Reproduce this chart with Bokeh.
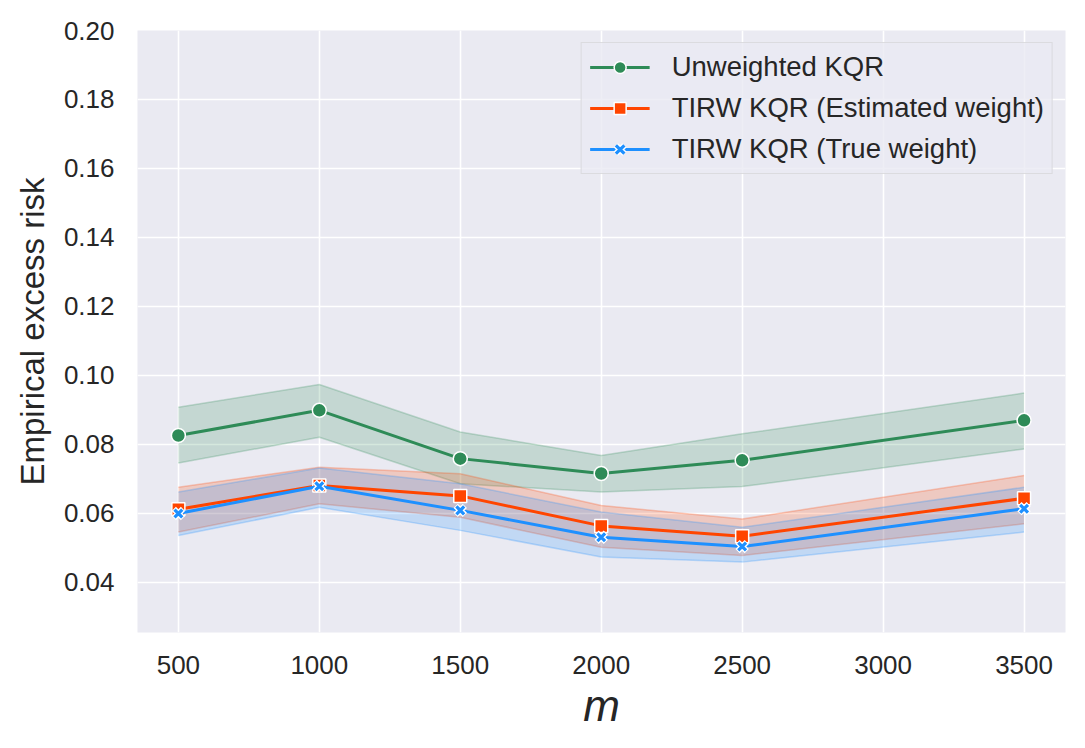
from bokeh.plotting import figure
from bokeh.models import FixedTicker, Legend, LegendItem, Range1d, NumeralTickFormatter
from bokeh.embed import file_html
from bokeh.resources import INLINE

m_values = [500, 1000, 1500, 2000, 2500, 3500]

unweighted_mean = [0.0826, 0.0899, 0.0759, 0.0716, 0.0754, 0.0870]
unweighted_low = [0.0746, 0.0821, 0.0686, 0.0662, 0.0678, 0.0787]
unweighted_high = [0.0908, 0.0974, 0.0836, 0.0768, 0.0831, 0.0949]

est_mean = [0.0612, 0.0681, 0.0651, 0.0564, 0.0534, 0.0644]
est_low = [0.0546, 0.0628, 0.0589, 0.0502, 0.0478, 0.0570]
est_high = [0.0676, 0.0734, 0.0715, 0.0623, 0.0584, 0.0710]

true_mean = [0.0600, 0.0679, 0.0609, 0.0531, 0.0504, 0.0614]
true_low = [0.0536, 0.0618, 0.0551, 0.0474, 0.0459, 0.0546]
true_high = [0.0662, 0.0732, 0.0686, 0.0604, 0.0560, 0.0676]

x_ticks = [500, 1000, 1500, 2000, 2500, 3000, 3500]
y_ticks = [0.04, 0.06, 0.08, 0.10, 0.12, 0.14, 0.16, 0.18, 0.20]

labels = ["Unweighted KQR", "TIRW KQR (Estimated weight)", "TIRW KQR (True weight)"]
colors = ["#2E8B57", "#FF4500", "#1E90FF"]

FONT = "Liberation Sans"
TXT = "#262626"

p = figure(width=1080, height=745, output_backend="svg", toolbar_location=None,
           x_range=Range1d(355, 3647), y_range=Range1d(0.0255, 0.20),
           min_border_left=137, min_border_right=15, min_border_top=30, min_border_bottom=113)

p.background_fill_color = "#EAEAF2"
p.border_fill_color = "white"
p.outline_line_color = None
p.grid.grid_line_color = "white"
p.grid.grid_line_width = 1.6

for ax in (p.xaxis, p.yaxis):
    ax.axis_line_color = None
    ax.major_tick_line_color = None
    ax.minor_tick_line_color = None
    ax.major_label_text_font = FONT
    ax.major_label_text_font_size = "26px"
    ax.major_label_text_color = TXT
    ax.axis_label_text_color = TXT
    ax.axis_label_text_font = FONT

p.xaxis.ticker = FixedTicker(ticks=x_ticks)
p.yaxis.ticker = FixedTicker(ticks=y_ticks)
p.yaxis.formatter = NumeralTickFormatter(format="0.00")
p.xaxis.major_label_standoff = 17
p.yaxis.major_label_standoff = 17

p.yaxis.axis_label = "Empirical excess risk"
p.yaxis.axis_label_text_font_size = "33px"
p.yaxis.axis_label_text_font_style = "normal"
p.yaxis.axis_label_standoff = 10

p.xaxis.axis_label = "m"
p.xaxis.axis_label_text_font_size = "44px"
p.xaxis.axis_label_text_font_style = "italic"
p.xaxis.axis_label_standoff = 4

bands = [(unweighted_low, unweighted_high), (est_low, est_high), (true_low, true_high)]

for (lo, hi), c in zip(bands, colors):
    p.varea(x=m_values, y1=lo, y2=hi, fill_color=c, fill_alpha=0.2)
    p.line(x=m_values, y=lo, line_color=c, line_alpha=0.25, line_width=1.5)
    p.line(x=m_values, y=hi, line_color=c, line_alpha=0.25, line_width=1.5)

items = []
l0 = p.line(x=m_values, y=unweighted_mean, line_color=colors[0], line_width=3)
m0 = p.scatter(x=m_values, y=unweighted_mean, marker="circle", size=14,
               fill_color=colors[0], line_color="white", line_width=1.5)
items.append(LegendItem(label=labels[0], renderers=[l0, m0]))

l1 = p.line(x=m_values, y=est_mean, line_color=colors[1], line_width=3)
m1 = p.scatter(x=m_values, y=est_mean, marker="square", size=13,
               fill_color=colors[1], line_color="white", line_width=1.5)
items.append(LegendItem(label=labels[1], renderers=[l1, m1]))

l2 = p.line(x=m_values, y=true_mean, line_color=colors[2], line_width=3)
m2w = p.scatter(x=m_values, y=true_mean, marker="x", size=13,
                line_color="white", line_width=6)
m2 = p.scatter(x=m_values, y=true_mean, marker="x", size=11,
               line_color=colors[2], line_width=3.2)
items.append(LegendItem(label=labels[2], renderers=[l2, m2w, m2]))

legend = Legend(items=items, location="top_right")
legend.margin = 12
legend.padding = 8
legend.spacing = 9
legend.label_height = 30
legend.glyph_height = 30
legend.glyph_width = 60
legend.label_standoff = 22
legend.label_text_font = FONT
legend.label_text_font_size = "27.5px"
legend.label_text_color = TXT
legend.background_fill_color = "#EAEAF2"
legend.background_fill_alpha = 0.8
legend.border_line_color = "#CCCCCC"
legend.border_line_width = 1.5
p.add_layout(legend, "center")

open("out.html", "w").write(file_html(p, INLINE))
